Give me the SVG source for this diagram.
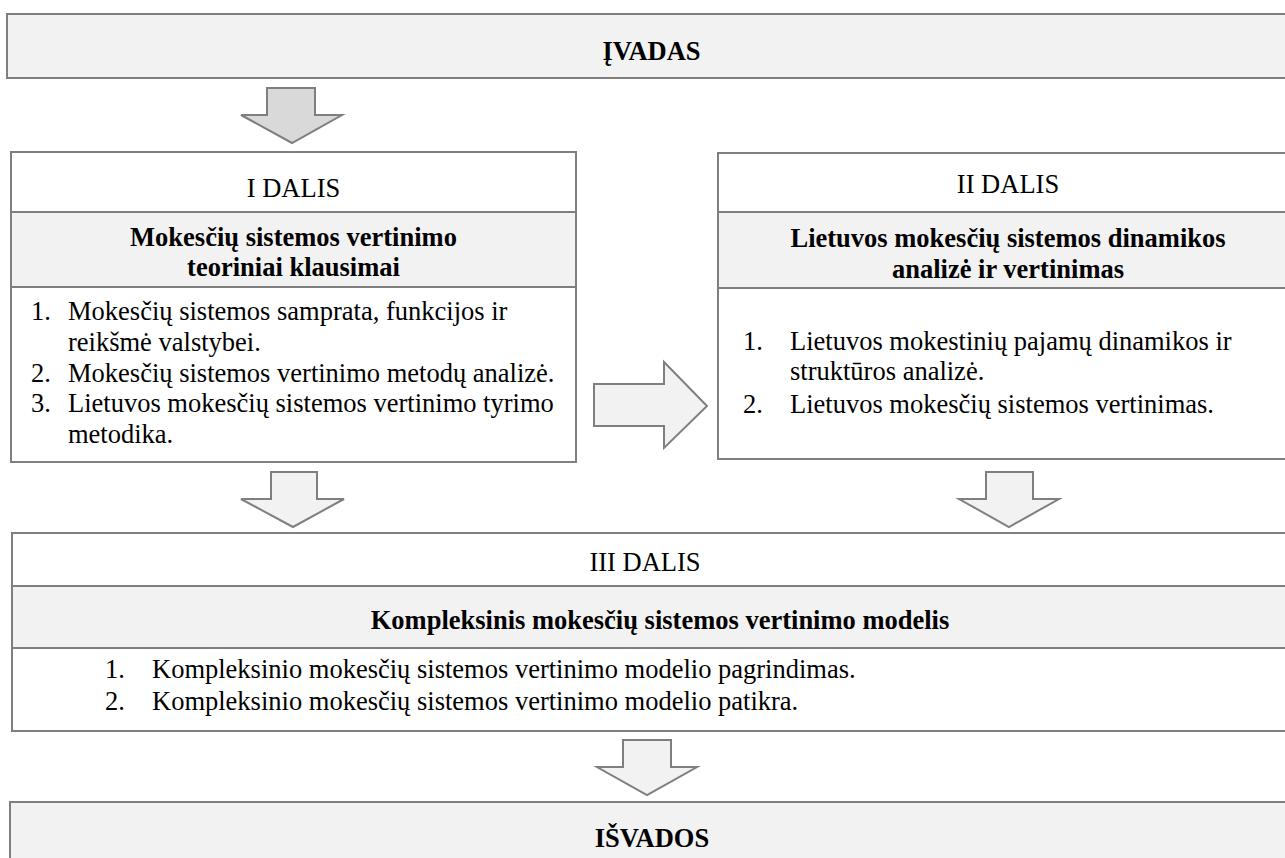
<svg xmlns="http://www.w3.org/2000/svg" width="1285" height="858" viewBox="0 0 1285 858">
<style>
.box{fill:#ffffff;stroke:#7f7f7f;stroke-width:2}
.band{fill:#f2f2f2;stroke:#7f7f7f;stroke-width:2}
.arrow{fill:#f2f2f2;stroke:#7f7f7f;stroke-width:2;stroke-linejoin:miter}
.arrow.dark{fill:#d9d9d9}
text{font-family:'Liberation Serif','Times New Roman',serif;font-size:26.5px;fill:#000}
.b{font-weight:bold}
.c{text-anchor:middle}
</style>
<rect width="1285" height="858" fill="#ffffff"/>
<g id="ivadas">
<rect class="band" x="7" y="14" width="1290" height="64"/>
<text class="b c" x="651.5" y="60">ĮVADAS</text>
</g>
<g id="dalis1">
<rect class="box" x="11" y="152" width="565" height="310"/>
<rect class="band" x="11" y="212" width="565" height="75"/>
<text class="c" x="293.5" y="197">I DALIS</text>
<text class="b c" x="293.5" y="246">Mokesčių sistemos vertinimo</text>
<text class="b c" x="293.5" y="276">teoriniai klausimai</text>
<text x="31" y="320">1.</text>
<text x="68" y="320">Mokesčių sistemos samprata, funkcijos ir</text>
<text x="68" y="351">reikšmė valstybei.</text>
<text x="31" y="382">2.</text>
<text x="68" y="382">Mokesčių sistemos vertinimo metodų analizė.</text>
<text x="31" y="412">3.</text>
<text x="68" y="412">Lietuvos mokesčių sistemos vertinimo tyrimo</text>
<text x="68" y="443">metodika.</text>
</g>
<g id="dalis2">
<rect class="box" x="718" y="153" width="580" height="306"/>
<rect class="band" x="718" y="212" width="580" height="76"/>
<text class="c" x="1008" y="193">II DALIS</text>
<text class="b c" x="1008" y="247">Lietuvos mokesčių sistemos dinamikos</text>
<text class="b c" x="1008" y="278">analizė ir vertinimas</text>
<text x="743" y="350">1.</text>
<text x="790" y="350">Lietuvos mokestinių pajamų dinamikos ir</text>
<text x="790" y="380">struktūros analizė.</text>
<text x="743" y="413">2.</text>
<text x="790" y="413">Lietuvos mokesčių sistemos vertinimas.</text>
</g>
<g id="dalis3">
<rect class="box" x="12" y="533" width="1290" height="198"/>
<rect class="band" x="12" y="586" width="1290" height="62"/>
<text class="c" x="645" y="571">III DALIS</text>
<text class="b c" x="660" y="629">Kompleksinis mokesčių sistemos vertinimo modelis</text>
<text x="105" y="678">1.</text>
<text x="152" y="678">Kompleksinio mokesčių sistemos vertinimo modelio pagrindimas.</text>
<text x="105" y="710">2.</text>
<text x="152" y="710">Kompleksinio mokesčių sistemos vertinimo modelio patikra.</text>
</g>
<g id="isvados">
<rect class="band" x="10" y="802" width="1290" height="80"/>
<text class="b c" x="652" y="847">IŠVADOS</text>
</g>
<g id="connectors">
<polygon class="arrow dark" points="267,88 315,88 315,115 342,115 292,143 241,115 267,115"/>
<polygon class="arrow" points="594,384 664,384 664,362 707,406 664,448 664,426 594,426"/>
<polygon class="arrow" points="271,472 317,472 317,499 344,499 293,527 241,499 271,499"/>
<polygon class="arrow" points="986,472 1033,472 1033,499 1059,499 1009,527 959,499 986,499"/>
<polygon class="arrow" points="623,740 671,740 671,767 697,767 647,795 597,767 623,767"/>
</g>
</svg>
